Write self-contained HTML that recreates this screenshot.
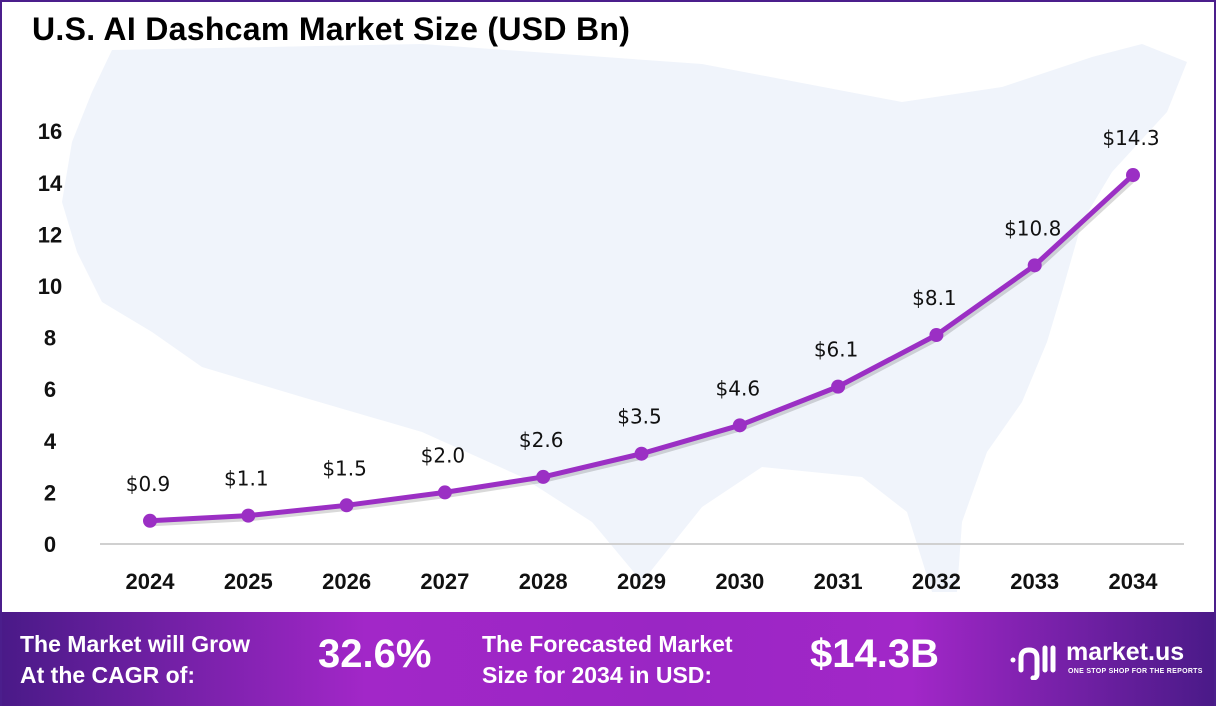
<!DOCTYPE html>
<html><head><meta charset="utf-8"><style>
body{margin:0;width:1216px;height:706px;overflow:hidden;background:#fff;font-family:"Liberation Sans",sans-serif}
#wrap{position:relative;width:1212px;height:704px;border:2px solid #4b1e8c;border-bottom:none;overflow:hidden;background:#fff}
#title{position:absolute;left:30px;top:9px;font-size:32px;font-weight:bold;color:#000;letter-spacing:0.3px}
#banner{position:absolute;left:0;top:610px;width:1212px;height:96px;background:linear-gradient(90deg,#4a1a88 0%,#a227c8 30%,#9a26c4 55%,#a227c8 75%,#4a1a88 100%)}
.bt{position:absolute;color:#fff;font-weight:bold}
</style></head><body>
<div id="wrap">
<svg id="chart" width="1212" height="610" style="position:absolute;left:0;top:0">
<path fill="#f0f4fb" d="M110,48 L420,42 L700,62 L900,100 L1000,85 L1090,55 L1140,42 L1185,60 L1165,110 L1110,170 L1080,220 L1060,290 L1045,340 L1020,400 L985,450 L960,520 L955,590 L930,590 L905,510 L860,475 L760,465 L700,505 L640,580 L590,520 L520,475 L420,430 L300,395 L200,365 L150,330 L100,300 L75,250 L60,200 L70,140 L90,90 Z"/>
</svg>
<div id="title">U.S. AI Dashcam Market Size (USD Bn)</div>
<div id="banner">
<div class="bt" style="left:18px;top:17px;font-size:23px;line-height:31px">The Market will Grow<br>At the CAGR of:</div>
<div class="bt" style="left:316px;top:20px;font-size:40px">32.6%</div>
<div class="bt" style="left:480px;top:17px;font-size:23px;line-height:31px">The Forecasted Market<br>Size for 2034 in USD:</div>
<div class="bt" style="left:808px;top:20px;font-size:40px">$14.3B</div>
<svg style="position:absolute;left:1005px;top:28px" width="52" height="40"><g stroke="#fff" stroke-width="5" fill="none" stroke-linecap="round"><circle cx="6" cy="20" r="2.5" fill="#fff" stroke="none"/><path d="M14,30 L14,18 Q14,10 22,10 Q30,10 30,18 L30,34 Q30,38 26,38"/><path d="M38,8 L38,30"/><path d="M46,8 L46,30"/></g></svg>
<div class="bt" style="left:1064px;top:26px;font-size:25px">market.us</div>
<div class="bt" style="left:1066px;top:56px;font-size:7px;letter-spacing:0.3px">ONE STOP SHOP FOR THE REPORTS</div>
</div>
</div>
<script>
const years=["2024","2025","2026","2027","2028","2029","2030","2031","2032","2033","2034"];
const values=[0.9,1.1,1.5,2.0,2.6,3.5,4.6,6.1,8.1,10.8,14.3];
const labels=["$0.9","$1.1","$1.5","$2.0","$2.6","$3.5","$4.6","$6.1","$8.1","$10.8","$14.3"];
const yTicks=[0,2,4,6,8,10,12,14,16];
const svg=document.getElementById('chart');const NS='http://www.w3.org/2000/svg';
const x=i=>148+i*98.3, y=v=>542-v*25.8;
function mk(t,a,txt){const e=document.createElementNS(NS,t);for(const k in a)e.setAttribute(k,a[k]);if(txt!=null)e.textContent=txt;svg.appendChild(e);return e;}
let ax=mk('line',{x1:98,x2:1182,y1:y(0),y2:y(0),stroke:'#d0d0d0','stroke-width':2});


yTicks.forEach(t=>{const e=mk('text',{x:48,y:y(t)+8,'text-anchor':'middle','font-size':22,'font-weight':'bold',fill:'#111'},t);

});
years.forEach((c,i)=>{const e=mk('text',{x:x(i),y:587,'text-anchor':'middle','font-size':22,'font-weight':'bold',fill:'#111'},c);

});
const pts=values.map((v,i)=>x(i)+','+y(v)).join(' ');
let sh=mk('polyline',{points:pts,fill:'none',stroke:'rgba(0,0,0,0.15)','stroke-width':5,transform:'translate(2,3)'});


let ln=mk('polyline',{points:pts,fill:'none',stroke:'#9b2fc4','stroke-width':5,'stroke-linejoin':'round'});


values.forEach((v,i)=>{const c=mk('circle',{cx:x(i),cy:y(v),r:7,fill:'#9b2fc4'});


const t=mk('text',{x:x(i)-2,y:y(v)-30,'text-anchor':'middle','font-size':20,fill:'#111','font-family':'DejaVu Sans, sans-serif'},labels[i]);

});
</script>
</body></html>
